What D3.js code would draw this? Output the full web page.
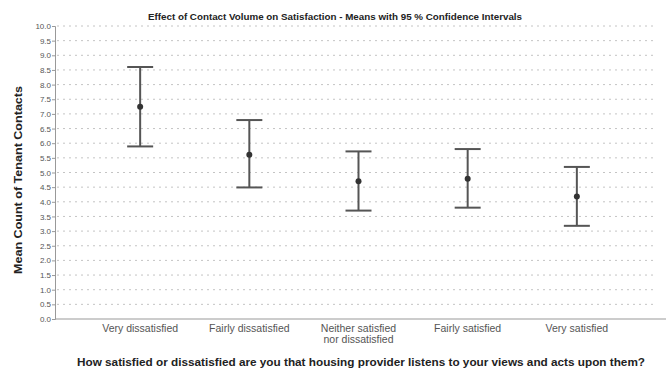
<!DOCTYPE html>
<html>
<head>
<meta charset="utf-8">
<script src="https://cdn.jsdelivr.net/npm/d3@7"></script>
<style>
  body { margin: 0; background: #fff; }
  svg { display: block; font-family: "Liberation Sans", Arial, sans-serif; }
</style>
</head>
<body>
<div id="chart"></div>
<script>
const WIDTH = 668;
const HEIGHT = 370;

const categories = ["Very dissatisfied", "Fairly dissatisfied", "Neither satisfied\nnor dissatisfied", "Fairly satisfied", "Very satisfied"];
const means = [7.24, 5.61, 4.70, 4.79, 4.18];
const lower = [5.89, 4.49, 3.70, 3.80, 3.18];
const upper = [8.60, 6.79, 5.72, 5.80, 5.19];
const yTicks = d3.range(0, 10.01, 0.5);

const MARGIN = { TOP: 26, BOTTOM: 51, LEFT: 55, RIGHT: 6 };
const plotW = WIDTH - MARGIN.LEFT - MARGIN.RIGHT;
const plotH = HEIGHT - MARGIN.TOP - MARGIN.BOTTOM;

const svg = d3.select('#chart')
    .append('svg')
    .attr('width', WIDTH)
    .attr('height', HEIGHT);

const g = svg.append('g')
    .attr('transform', `translate(${MARGIN.LEFT}, ${MARGIN.TOP})`);

const x = d3.scalePoint()
    .domain(categories)
    .range([0, plotW])
    .padding(0.78);

const y = d3.scaleLinear()
    .domain([0, 10])
    .range([plotH, 0]);

// dotted gridlines
g.selectAll('.grid')
    .data(yTicks.filter(d => d > 0))
    .enter()
    .append('line')
    .attr('x1', 2)
    .attr('x2', plotW - 8)
    .attr('y1', d => y(d))
    .attr('y2', d => y(d))
    .attr('stroke', '#c4c4c4')
    .attr('stroke-width', 1)
    .attr('stroke-dasharray', '2,4');

// y axis
const yAxis = g.append('g')
    .call(d3.axisLeft(y).tickValues(yTicks).tickFormat(d3.format('.1f')).tickSize(3).tickPadding(1));
yAxis.select('.domain').attr('stroke', '#999');
yAxis.selectAll('.tick line').attr('stroke', '#999');
yAxis.selectAll('.tick text')
    .attr('fill', '#555')
    .style('font-size', '8px');

// x axis line
g.append('line')
    .attr('x1', 0).attr('x2', plotW + 4)
    .attr('y1', plotH).attr('y2', plotH)
    .attr('stroke', '#999');

// category labels
const catLabels = g.selectAll('.cat')
    .data(categories)
    .enter()
    .append('text')
    .attr('x', d => x(d))
    .attr('y', plotH + 13)
    .attr('text-anchor', 'middle')
    .attr('fill', '#555')
    .style('font-size', '10.5px');
catLabels.each(function (d) {
    const lines = d.split('\n');
    d3.select(this).selectAll('tspan')
        .data(lines)
        .enter()
        .append('tspan')
        .attr('x', x(d))
        .attr('dy', (l, i) => i === 0 ? 0 : 11)
        .text(l => l);
});

// error bars
const bars = g.selectAll('.err')
    .data(categories)
    .enter()
    .append('g');

bars.append('line')
    .attr('x1', d => x(d)).attr('x2', d => x(d))
    .attr('y1', (d, i) => y(upper[i]))
    .attr('y2', (d, i) => y(lower[i]))
    .attr('stroke', '#555')
    .attr('stroke-width', 2);

bars.append('line')
    .attr('x1', d => x(d) - 13).attr('x2', d => x(d) + 13)
    .attr('y1', (d, i) => y(upper[i]))
    .attr('y2', (d, i) => y(upper[i]))
    .attr('stroke', '#555')
    .attr('stroke-width', 2);

bars.append('line')
    .attr('x1', d => x(d) - 13).attr('x2', d => x(d) + 13)
    .attr('y1', (d, i) => y(lower[i]))
    .attr('y2', (d, i) => y(lower[i]))
    .attr('stroke', '#555')
    .attr('stroke-width', 2);

bars.append('circle')
    .attr('cx', d => x(d))
    .attr('cy', (d, i) => y(means[i]))
    .attr('r', 3)
    .attr('fill', '#333');

// titles
svg.append('text')
    .attr('x', 335)
    .attr('y', 20)
    .attr('text-anchor', 'middle')
    .attr('fill', '#222')
    .style('font-size', '9.5px')
    .style('font-weight', 'bold')
    .attr('textLength', 374)
    .attr('lengthAdjust', 'spacingAndGlyphs')
    .text('Effect of Contact Volume on Satisfaction - Means with 95 % Confidence Intervals');

svg.append('text')
    .attr('transform', `translate(22, 180) rotate(-90)`)
    .attr('text-anchor', 'middle')
    .attr('fill', '#222')
    .style('font-size', '11.5px')
    .style('font-weight', 'bold')
    .attr('textLength', 188)
    .attr('lengthAdjust', 'spacingAndGlyphs')
    .text('Mean Count of Tenant Contacts');

svg.append('text')
    .attr('x', 361)
    .attr('y', 366)
    .attr('text-anchor', 'middle')
    .attr('fill', '#222')
    .style('font-size', '11px')
    .style('font-weight', 'bold')
    .attr('textLength', 568)
    .attr('lengthAdjust', 'spacingAndGlyphs')
    .text('How satisfied or dissatisfied are you that housing provider listens to your views and acts upon them?');
</script>
</body>
</html>
